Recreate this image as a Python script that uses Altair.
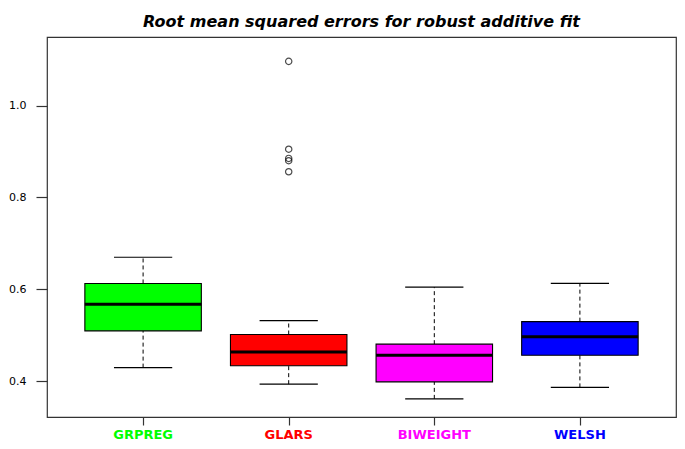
import altair as alt
import pandas as pd

# ---- data ----
methods = ["GRPREG", "GLARS", "BIWEIGHT", "WELSH"]
colors = ["#00ff00", "#ff0000", "#ff00ff", "#0000ff"]
lower_whisker = [0.430, 0.394, 0.362, 0.387]
q1 = [0.510, 0.434, 0.399, 0.457]
median = [0.568, 0.464, 0.457, 0.497]
q3 = [0.613, 0.502, 0.481, 0.530]
upper_whisker = [0.670, 0.532, 0.605, 0.613]

outlier_method = ["GLARS", "GLARS", "GLARS", "GLARS", "GLARS"]
outlier_value = [1.096, 0.905, 0.885, 0.880, 0.856]

y_ticks = [0.4, 0.6, 0.8, 1.0]
x_ticks = [1, 2, 3, 4]
title_text = "Root mean squared errors for robust additive fit"

FONT = "DejaVu Sans"

stats = pd.DataFrame({
    "method": methods,
    "pos": list(range(1, len(methods) + 1)),
    "color": colors,
    "lo": lower_whisker,
    "q1": q1,
    "med": median,
    "q3": q3,
    "hi": upper_whisker,
})
out = pd.DataFrame({
    "method": outlier_method,
    "pos": [methods.index(m) + 1 for m in outlier_method],
    "value": outlier_value,
})

xs = alt.Scale(domain=[0.34, 4.66], nice=False, zero=False)
ys = alt.Scale(domain=[0.3226, 1.149], nice=False, zero=False)

yaxis = alt.Axis(values=y_ticks, format=".1f", tickSize=11, labelPadding=10,
                 domain=False, grid=False, title=None, labelFont=FONT,
                 labelFontSize=11, labelColor="#000000", tickColor="#333333",
                 tickWidth=1.2)
xaxis = alt.Axis(values=x_ticks, labels=False, tickSize=8, domain=False,
                 grid=False, title=None, tickColor="#333333", tickWidth=1.2)


def X(field):
    return alt.X(field, scale=xs, axis=xaxis, title=None)


def Y(field):
    return alt.Y(field, scale=ys, axis=yaxis, title=None)


base = alt.Chart(stats).transform_calculate(
    xl="datum.pos - 0.4", xr="datum.pos + 0.4",
    sl="datum.pos - 0.2", sr="datum.pos + 0.2",
)

whisk_up = base.mark_rule(color="#000000", strokeDash=[4, 3], strokeWidth=1).encode(
    x=X("pos:Q"), y=Y("q3:Q"), y2="hi:Q",
)
whisk_lo = base.mark_rule(color="#000000", strokeDash=[4, 3], strokeWidth=1).encode(
    x=X("pos:Q"), y=Y("lo:Q"), y2="q1:Q",
)
staple_hi = base.mark_rule(color="#000000", strokeWidth=1.2).encode(
    x=X("sl:Q"), x2="sr:Q", y=Y("hi:Q"),
)
staple_lo = base.mark_rule(color="#000000", strokeWidth=1.2).encode(
    x=X("sl:Q"), x2="sr:Q", y=Y("lo:Q"),
)
box = base.mark_rect(stroke="#000000", strokeWidth=1.1).encode(
    x=X("xl:Q"), x2="xr:Q", y=Y("q1:Q"), y2="q3:Q",
    fill=alt.Fill("color:N", scale=None),
)
med = base.mark_rule(color="#000000", strokeWidth=3).encode(
    x=X("xl:Q"), x2="xr:Q", y=Y("med:Q"),
)
pts = alt.Chart(out).mark_point(shape="circle", filled=False, color="#000000",
                                size=40, strokeWidth=1.2).encode(
    x=X("pos:Q"), y=Y("value:Q"),
)
labels = alt.Chart(stats).mark_text(font=FONT, fontSize=13, fontWeight="bold",
                                    baseline="middle", align="center").encode(
    x=X("pos:Q"),
    y=alt.value(398),
    text="method:N",
    color=alt.Color("color:N", scale=None),
)

chart = alt.layer(whisk_up, whisk_lo, staple_hi, staple_lo, box, med, pts, labels).properties(
    width=629, height=380,
    title=alt.TitleParams(title_text, font=FONT, fontSize=16, fontWeight="bold",
                          fontStyle="italic", anchor="middle", offset=7,
                          color="#000000"),
    autosize=alt.AutoSizeParams(type="none"),
    padding={"left": 39, "top": 29, "right": 1, "bottom": 24},
    background="#ffffff",
).configure_view(stroke="#333333", strokeWidth=1.2)

chart.save("out.html", embed_options={"renderer": "svg", "actions": False})
